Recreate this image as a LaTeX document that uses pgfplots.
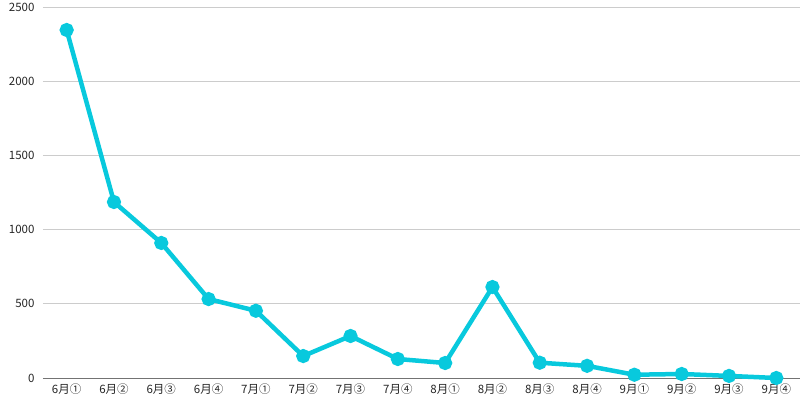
\documentclass[border=0pt]{standalone}
\usepackage{pgfplots}
\pgfplotsset{compat=1.18}
\usepackage{fontspec}
\setmainfont{Noto Sans CJK JP}
\definecolor{linec}{RGB}{8,201,221}
\begin{document}
\begin{tikzpicture}
\begin{axis}[name=ax,
  scale only axis, width=757bp, height=371bp,
  xmin=-0.5, xmax=15.5, ymin=0, ymax=2500,
  xtick={0,...,15},
  xticklabels={6月①,6月②,6月③,6月④,7月①,7月②,7月③,7月④,8月①,8月②,8月③,8月④,9月①,9月②,9月③,9月④},
  ytick={0,500,1000,1500,2000,2500},
  ymajorgrids, grid style={draw=black!20, line width=0.8bp},
  axis line style={draw=none},
  major tick length=0pt,
  tick label style={font=\fontsize{11.5bp}{13bp}\selectfont, text=black!85},
  yticklabel style={xshift=-5bp},
  xticklabel style={yshift=-2bp},
  /pgf/number format/assume math mode=true,
  /pgf/number format/1000 sep={},
  clip=false,
]
\draw[black!55, line width=1bp] (axis cs:-0.5,0) -- (axis cs:15.5,0);
\addplot[color=linec, line width=4.5bp, mark=*, mark size=4.8pt, mark options={solid, fill=linec, draw=none}] coordinates {
(0,2345) (1,1186) (2,910) (3,532) (4,453) (5,148) (6,283) (7,128) (8,101) (9,613) (10,103) (11,82) (12,22) (13,27) (14,14) (15,0)
};
\end{axis}
\pgfresetboundingbox
\useasboundingbox ([xshift=-43bp,yshift=-22bp]ax.south west) rectangle ([yshift=7bp]ax.north east);
\end{tikzpicture}
\end{document}
